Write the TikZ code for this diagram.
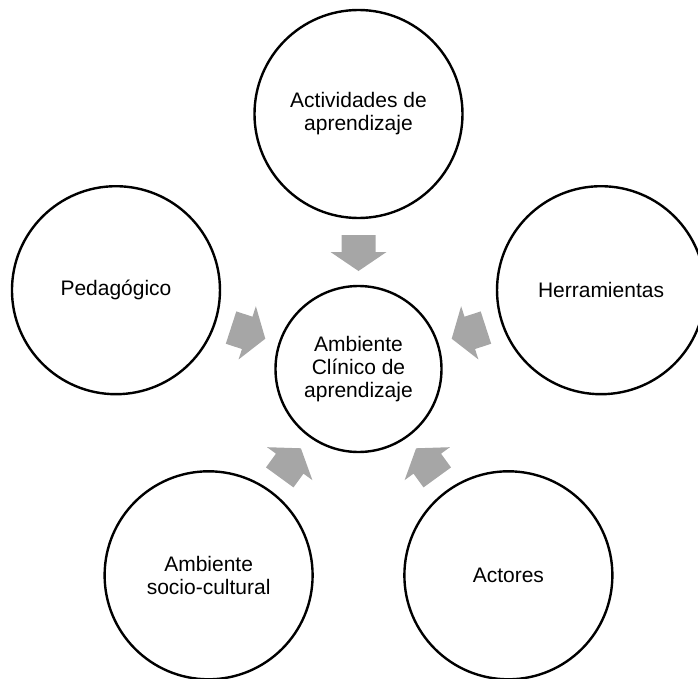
\documentclass[tikz,border=0pt]{standalone}
\usepackage{fontspec}
\setmainfont{Liberation Sans}
\usetikzlibrary{positioning}
\definecolor{flechagris}{RGB}{166,166,166}
\tikzset{
  circ/.style={draw, circle, line width=2.4pt, align=center, font=\fontsize{21}{23}\selectfont, inner sep=0pt},
  ccirc/.style={circ, minimum size=166pt},
  ocirc/.style={circ, minimum size=208pt},
  flecha/.style={fill=flechagris},
}
\begin{document}
\begin{tikzpicture}[x=1pt, y=1pt]
\useasboundingbox (-358.5,-309) rectangle (339.5,369);
\clip (-358.5,-309) rectangle (339.5,369);
\node[ccirc] (amb) at (0,0) {Ambiente\\Clínico de\\aprendizaje};
\node[ocirc] (act) at (90:255) {Actividades de\\aprendizaje};
\node[ocirc] (ped) at (162:255) {Pedagógico};
\node[ocirc] (soc) at (234:255) {Ambiente\\socio-cultural};
\node[ocirc] (acr) at (306:255) {Actores};
\node[ocirc] (her) at (18:255) {Herramientas};
% arrows pointing to the centre
\foreach \a in {90,162,234,306,18}
  \fill[flecha, shift={(\a:116)}, rotate=\a+180]
    (-18,-17) -- (-1,-17) -- (-1,-28) -- (18,0) -- (-1,28) -- (-1,17) -- (-18,17) -- cycle;
\end{tikzpicture}
\end{document}
